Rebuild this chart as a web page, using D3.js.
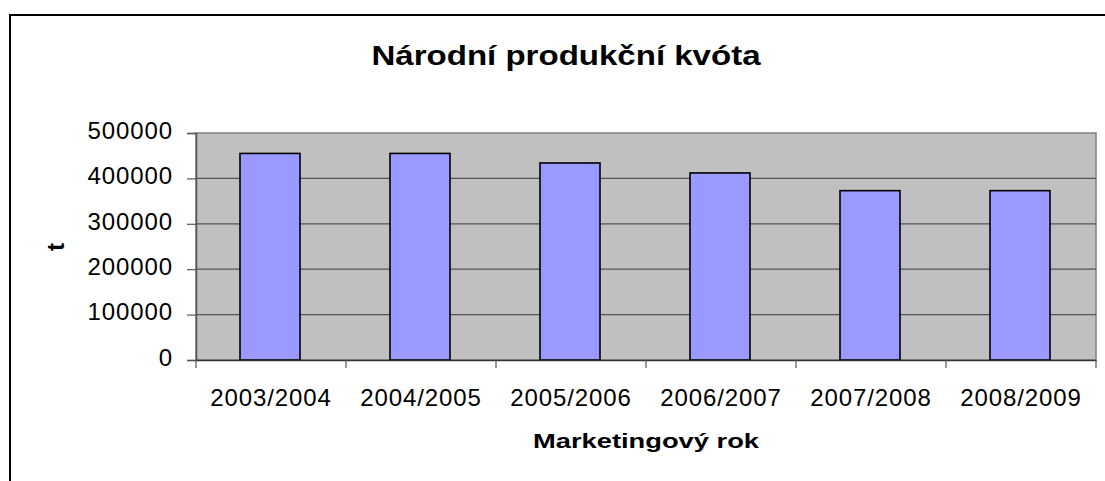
<!DOCTYPE html>
<html>
<head>
<meta charset="utf-8">
<script src="https://cdn.jsdelivr.net/npm/d3@7"></script>
<style>
  body { margin: 0; background: #fff; }
  text { font-family: "Liberation Sans", Arial, sans-serif; fill: #000; }
</style>
</head>
<body>
<svg width="1105" height="481"></svg>
<script>
// data
var years = ["2003/2004", "2004/2005", "2005/2006", "2006/2007", "2007/2008", "2008/2009"];
var quota = [455000, 455000, 434000, 412000, 373000, 373000];
var yTicks = [0, 100000, 200000, 300000, 400000, 500000];

var svg = d3.select("svg");

// plot area
var plotLeft = 196, plotRight = 1096, plotTop = 133, plotBottom = 360;

var x = d3.scaleBand().domain(years).range([plotLeft, plotRight]).padding(0);
var y = d3.scaleLinear().domain([0, 500000]).range([plotBottom, plotTop]);

// chart frame (cut off on the right and bottom)
svg.append("rect")
  .attr("x", 10).attr("y", 15)
  .attr("width", 1200).attr("height", 600)
  .attr("fill", "#fff")
  .attr("stroke", "#000")
  .attr("stroke-width", 2);

// title, a bit stretched like the original picture
svg.append("g")
  .attr("transform", "translate(566,65) scale(1.18,1)")
  .append("text")
  .attr("text-anchor", "middle")
  .style("font-size", "28px")
  .style("font-weight", "bold")
  .text("Národní produkční kvóta");

// plot background
svg.append("rect")
  .attr("x", plotLeft).attr("y", plotTop)
  .attr("width", plotRight - plotLeft).attr("height", plotBottom - plotTop)
  .attr("fill", "#c0c0c0")
  .attr("stroke", "#808080")
  .attr("stroke-width", 1.5);

// grid lines
svg.append("g")
  .selectAll("line")
  .data(yTicks.filter(function(d) { return d > 0 && d < 500000; }))
  .enter()
  .append("line")
  .attr("x1", plotLeft).attr("x2", plotRight)
  .attr("y1", function(d) { return y(d); })
  .attr("y2", function(d) { return y(d); })
  .attr("stroke", "#555")
  .attr("stroke-width", 1.2);

// bars
var bw = x.bandwidth();
svg.append("g")
  .selectAll("rect")
  .data(quota)
  .enter()
  .append("rect")
  .attr("x", function(d, i) { return x(years[i]) + bw * 0.3 - 1; })
  .attr("y", function(d) { return y(d); })
  .attr("width", bw * 0.4)
  .attr("height", function(d) { return plotBottom - y(d); })
  .attr("fill", "#9999ff")
  .attr("stroke", "#000")
  .attr("stroke-width", 1.6);

// y axis
var yAxis = svg.append("g")
  .attr("transform", "translate(" + plotLeft + ",0)")
  .call(d3.axisLeft(y).tickValues(yTicks).tickSize(9).tickPadding(14).tickFormat(d3.format("d")));
yAxis.select(".domain").attr("stroke", "#555").attr("stroke-width", 1.5);
yAxis.selectAll(".tick line").attr("stroke", "#555").attr("stroke-width", 1.2);
yAxis.selectAll(".tick text")
  .attr("dy", "0.22em")
  .style("font-size", "24px")
  .style("letter-spacing", "0.9px")
  .style("font-family", "Liberation Sans, Arial, sans-serif")
  .attr("fill", "#000");

// x axis
var xAxis = svg.append("g")
  .attr("transform", "translate(0," + plotBottom + ")")
  .call(d3.axisBottom(x).tickSize(0).tickPadding(0));
xAxis.select(".domain").attr("stroke", "#333").attr("stroke-width", 1.5);
xAxis.selectAll(".tick text")
  .attr("y", 46).attr("dy", 0)
  .style("font-size", "24px")
  .style("letter-spacing", "0.9px")
  .style("font-family", "Liberation Sans, Arial, sans-serif")
  .attr("fill", "#000");

// x tick marks at category borders
svg.append("g")
  .selectAll("line")
  .data(years.concat([null]))
  .enter()
  .append("line")
  .attr("x1", function(d) { return d === null ? plotRight : x(d); })
  .attr("x2", function(d) { return d === null ? plotRight : x(d); })
  .attr("y1", plotBottom).attr("y2", plotBottom + 8)
  .attr("stroke", "#555")
  .attr("stroke-width", 1.2);

// axis titles
svg.append("g")
  .attr("transform", "translate(" + ((plotLeft + plotRight) / 2) + ",448) scale(1.3,1)")
  .append("text")
  .attr("text-anchor", "middle")
  .style("font-size", "21px")
  .style("font-weight", "bold")
  .text("Marketingový rok");

svg.append("text")
  .attr("transform", "translate(64,247) rotate(-90)")
  .attr("text-anchor", "middle")
  .style("font-size", "24px")
  .style("font-weight", "bold")
  .text("t");
</script>
</body>
</html>
